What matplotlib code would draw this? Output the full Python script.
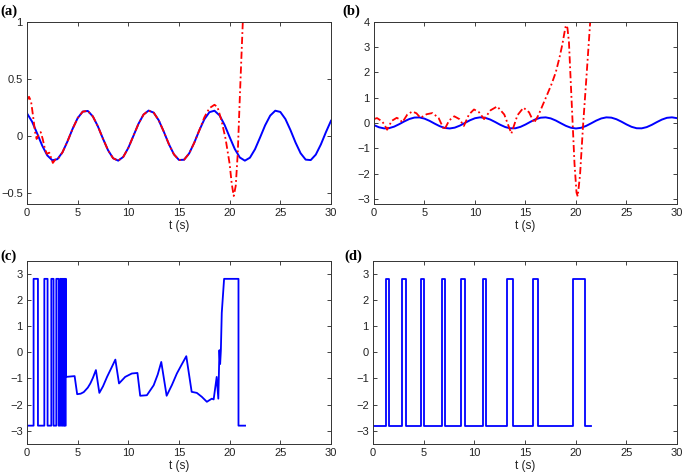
import matplotlib
matplotlib.use('Agg')
import matplotlib.pyplot as plt
from matplotlib.ticker import FuncFormatter

# ---------------- data ----------------
t_half = [0, 0.5, 1, 1.5, 2, 2.5, 3, 3.5, 4, 4.5, 5, 5.5, 6, 6.5, 7, 7.5, 8, 8.5, 9, 9.5,
          10, 10.5, 11, 11.5, 12, 12.5, 13, 13.5, 14, 14.5, 15, 15.5, 16, 16.5, 17, 17.5,
          18, 18.5, 19, 19.5, 20, 20.5, 21, 21.5, 22, 22.5, 23, 23.5, 24, 24.5, 25, 25.5,
          26, 26.5, 27, 27.5, 28, 28.5, 29, 29.5, 30]

blue_a = [0.195, 0.122, 0.019, -0.088, -0.174, -0.217, -0.207, -0.147, -0.050, 0.059,
          0.153, 0.210, 0.216, 0.168, 0.080, -0.028, -0.129, -0.199, -0.220, -0.187,
          -0.108, -0.003, 0.103, 0.184, 0.219, 0.201, 0.134, 0.034, -0.075, -0.165,
          -0.214, -0.212, -0.157, -0.064, 0.045, 0.142, 0.205, 0.218, 0.177, 0.093,
          -0.014, -0.117, -0.192, -0.220, -0.194, -0.120, -0.017, 0.090, 0.175, 0.218,
          0.207, 0.145, 0.048, -0.061, -0.155, -0.211, -0.215, -0.167, -0.078, 0.030, 0.130]

t_red_a = [0, 0.2, 0.4, 0.6, 0.8, 0.95, 1.15, 1.35, 1.55, 1.75, 1.95, 2.2, 2.4, 2.55, 2.8,
           3.1, 3.5, 4, 4.5, 5, 5.5, 6, 6.5, 7, 7.5, 8, 8.5, 9, 9.5, 10, 10.5, 11, 11.5,
           12, 12.5, 13, 13.5, 14, 14.5, 15, 15.5, 16, 16.5, 17, 17.5, 18, 18.5, 18.8,
           19.2, 19.6, 20.0, 20.2, 20.4, 20.6, 20.8, 21.0, 21.2, 21.5]
red_a = [0.31, 0.34, 0.30, 0.17, 0.03, -0.03, 0.01, 0.03, -0.03, -0.11, -0.16, -0.15, -0.20,
         -0.24, -0.21, -0.20, -0.147, -0.050, 0.059, 0.153, 0.210, 0.216, 0.168, 0.080,
         -0.028, -0.129, -0.199, -0.220, -0.187, -0.108, -0.003, 0.103, 0.184, 0.219, 0.201,
         0.134, 0.034, -0.075, -0.165, -0.214, -0.212, -0.157, -0.064, 0.045, 0.16, 0.24,
         0.27, 0.25, 0.13, -0.03, -0.25, -0.42, -0.53, -0.44, -0.15, 0.33, 0.78, 1.45]

blue_b = [-0.088, -0.174, -0.217, -0.207, -0.147, -0.050, 0.059, 0.153, 0.210, 0.216,
          0.168, 0.080, -0.028, -0.129, -0.199, -0.220, -0.187, -0.108, -0.003, 0.103,
          0.184, 0.219, 0.201, 0.134, 0.034, -0.075, -0.165, -0.214, -0.212, -0.157,
          -0.064, 0.045, 0.142, 0.205, 0.218, 0.177, 0.093, -0.014, -0.117, -0.192,
          -0.220, -0.194, -0.120, -0.017, 0.090, 0.175, 0.218, 0.207, 0.145, 0.048,
          -0.061, -0.155, -0.211, -0.215, -0.167, -0.078, 0.030, 0.130, 0.200, 0.219, 0.186]

t_red_b = [0, 0.3, 0.8, 1.05, 1.3, 1.75, 2.25, 2.55, 2.8, 3.3, 3.8, 4.2, 4.6, 5.2, 5.8, 6.4,
           6.95, 7.45, 7.95, 8.45, 8.9, 9.4, 9.9, 10.4, 10.9, 11.55, 12.2, 12.9, 13.6, 14.2,
           14.8, 15.35, 15.85, 16.3, 16.7, 17.15, 17.6, 18.0, 18.35, 18.65, 18.85, 19.0,
           19.15, 19.3, 19.55, 19.85, 20.05, 20.17, 20.4, 20.7, 21.05, 21.4, 21.6]
red_b = [0.15, 0.19, 0.06, -0.08, -0.27, 0.08, 0.20, 0.14, 0.02, 0.33, 0.45, 0.38, 0.20,
         0.34, 0.39, 0.19, -0.28, 0.10, 0.26, 0.15, -0.12, 0.33, 0.53, 0.42, 0.15, 0.50,
         0.65, 0.33, -0.42, 0.30, 0.60, 0.42, 0.00, 0.32, 0.70, 1.12, 1.55, 2.0, 2.55, 3.1,
         3.55, 3.85, 3.75, 3.2, 1.0, -1.6, -2.75, -2.9, -2.05, -0.1, 1.9, 3.95, 5.0]

t_c = [0, 0.65, 0.65, 1.08, 1.08, 1.71, 1.71, 2.03, 2.03, 2.40, 2.40, 2.62, 2.62, 2.89, 2.89,
       3.12, 3.12, 3.28, 3.28, 3.40, 3.40, 3.50, 3.50, 3.60, 3.60, 3.68, 3.68, 3.76, 3.76,
       3.82, 3.82, 3.85, 3.85, 4.70, 4.95, 5.3, 5.6, 6.0, 6.25, 6.5, 6.8, 7.14, 7.5, 7.9,
       8.3, 8.72, 9.08, 9.69, 10.35, 10.9, 11.17, 11.83, 12.5, 12.9, 13.25, 13.78, 14.3,
       14.79, 15.25, 15.72, 16.25, 16.76, 17.25, 17.75, 18.24, 18.42, 18.72, 18.88, 18.99,
       19.06, 19.13, 19.22, 19.45, 20.87, 20.87, 21.52]
u_c = [-2.8, -2.8, 2.8, 2.8, -2.8, -2.8, 2.8, 2.8, -2.8, -2.8, 2.8, 2.8, -2.8, -2.8, 2.8,
       2.8, -2.8, -2.8, 2.8, 2.8, -2.8, -2.8, 2.8, 2.8, -2.8, -2.8, 2.8, 2.8, -2.8,
       -2.8, 2.8, 2.8, -0.94, -0.91, -1.60, -1.58, -1.52, -1.35, -1.19, -0.98, -0.68, -1.55,
       -1.30, -0.94, -0.62, -0.28, -1.19, -0.94, -0.81, -0.79, -1.66, -1.64, -1.26, -0.85,
       -0.37, -1.66, -1.25, -0.81, -0.48, -0.15, -1.51, -1.55, -1.70, -1.89, -1.77, -1.80,
       -0.94, -1.77, 0.08, -0.45, 0.05, 1.5, 2.8, 2.8, -2.8, -2.8]

t_d = [0, 1.26, 1.60, 2.86, 3.22, 4.73, 4.99, 6.80, 7.15, 8.70, 9.11, 10.84, 11.17, 13.27,
       13.80, 15.80, 16.26, 19.75, 20.93, 21.50]
u_d = [-2.8, 2.8, -2.8, 2.8, -2.8, 2.8, -2.8, 2.8, -2.8, 2.8, -2.8, 2.8, -2.8, 2.8,
       -2.8, 2.8, -2.8, 2.8, -2.8, -2.8]

x_ticks = [0, 5, 10, 15, 20, 25, 30]
yticks_a = [-0.5, 0, 0.5, 1]
yticks_b = [-3, -2, -1, 0, 1, 2, 3, 4]
yticks_cd = [-3, -2, -1, 0, 1, 2, 3]
panel_labels = ['(a)', '(b)', '(c)', '(d)']

# ---------------- figure ----------------
plt.rcParams['font.family'] = ['Liberation Sans', 'DejaVu Sans']
fig = plt.figure(figsize=(6.85, 4.75), dpi=100)

rects = [[27/685, 1-204/475, 304/685, 182.5/475],
         [374/685, 1-204/475, 303/685, 182.5/475],
         [27/685, 1-444/475, 304/685, 183.5/475],
         [373/685, 1-444/475, 304/685, 183.5/475]]
axes = [fig.add_axes(r) for r in rects]

blue = (0, 0, 1)
red = (1, 0, 0)
ax = axes[0]
ax.plot(t_half, blue_a, color=blue, lw=1.4)
ax.plot(t_red_a, red_a, color=red, lw=1.3, linestyle=(0, (4, 1.6, 1, 1.6)))
ax.set_ylim(-0.6, 1)
ax.set_yticks(yticks_a)

ax = axes[1]
ax.plot(t_half, blue_b, color=blue, lw=1.4)
ax.plot(t_red_b, red_b, color=red, lw=1.3, linestyle=(0, (4, 1.6, 1, 1.6)))
ax.set_ylim(-3.2, 4)
ax.set_yticks(yticks_b)

ax = axes[2]
ax.plot(t_c, u_c, color=blue, lw=1.3)
ax.set_ylim(-3.5, 3.5)
ax.set_yticks(yticks_cd)

ax = axes[3]
ax.step(t_d, u_d, where='post', color=blue, lw=1.3)
ax.set_ylim(-3.5, 3.5)
ax.set_yticks(yticks_cd)

fmt = FuncFormatter(lambda v, p: ('%g' % v).replace('-', '\u2212'))
for ax in axes:
    ax.set_xlim(0, 30)
    ax.set_xticks(x_ticks)
    ax.yaxis.set_major_formatter(fmt)
    ax.tick_params(direction='in', length=3, width=0.6, labelsize=8, pad=3,
                   top=True, right=True, colors='#222222')
    for s in ax.spines.values():
        s.set_linewidth(0.7)
        s.set_color('#333333')
    ax.set_xlabel('t (s)', fontsize=8.5, labelpad=1, color='#222222')

label_pos = [(0.0, 1-11/475), (342/685, 1-11/475), (0.0, 1-256/475), (344/685, 1-256/475)]
for (x, y), lab in zip(label_pos, panel_labels):
    fig.text(x, y, lab, family=['Liberation Serif', 'DejaVu Serif'], fontweight='bold',
             fontsize=10.5, va='center', ha='left')

fig.savefig('out.png', dpi=100)
